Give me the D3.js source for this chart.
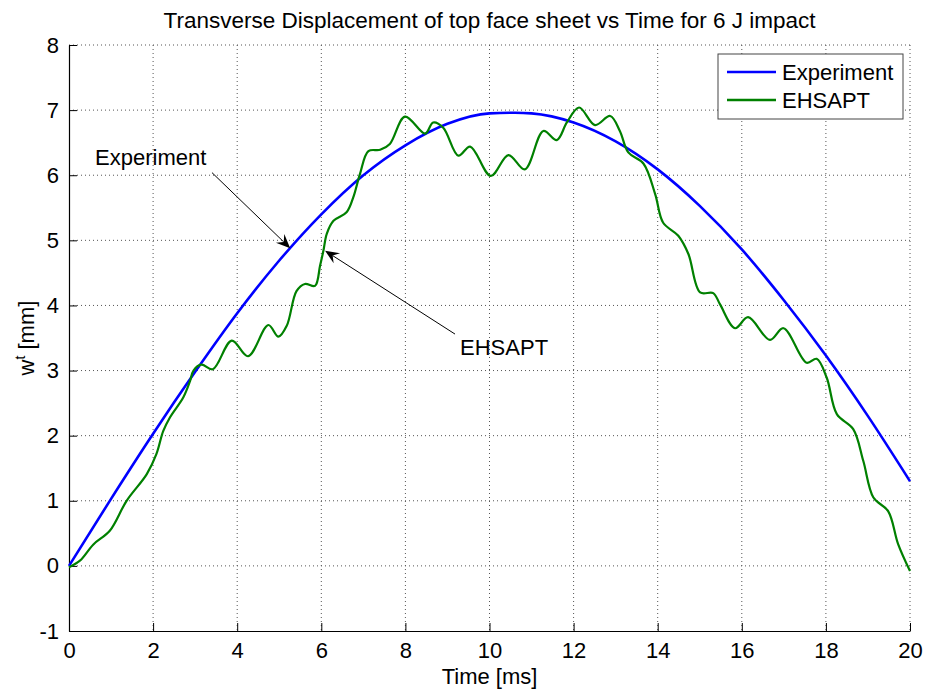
<!DOCTYPE html>
<html>
<head>
<meta charset="utf-8">
<script src="https://cdn.jsdelivr.net/npm/d3@7"></script>
<style>
  body { margin: 0; background: #fff; }
  text { font-family: "Liberation Sans", Arial, sans-serif; fill: #000; }
  .grid line { stroke: #555; stroke-dasharray: 1,3; stroke-width: 1; }
</style>
</head>
<body>
<svg id="chart" width="928" height="692"></svg>
<script>
// time [ms] and displacement [mm]
var expTime = [0, 1, 2, 3, 4, 5, 6, 7, 8, 9, 10, 10.6, 11, 12, 13, 14, 15, 16, 17, 18, 19, 20];
var expDisp = [0, 1.03, 2.03, 2.98, 3.88, 4.69, 5.40, 6.00, 6.46, 6.79, 6.95, 6.96, 6.95, 6.81, 6.52, 6.09, 5.53, 4.86, 4.08, 3.23, 2.30, 1.30];

var ehsTime = [0, 0.26, 0.58, 0.97, 1.37, 1.85, 2.08, 2.24, 2.40, 2.72, 2.88, 2.96, 3.15, 3.42, 3.87, 4.26, 4.74, 4.98, 5.18, 5.41, 5.61, 5.85, 5.97,
  6.05, 6.13, 6.29, 6.60, 6.76, 6.92, 7.12, 7.40, 7.63, 7.99, 8.47, 8.66, 8.90, 9.26, 9.54, 10.03, 10.45, 10.84, 11.28, 11.60, 11.84, 12.13,
  12.51, 12.87, 13.10, 13.30, 13.66, 13.94, 14.13, 14.49, 14.73, 15.01, 15.32, 15.48, 15.84, 16.15, 16.67, 16.99, 17.54, 17.78, 18.02,
  18.26, 18.65, 18.89, 19.13, 19.48, 19.72, 20];
var ehsDisp = [-0.02, 0.08, 0.33, 0.54, 1.00, 1.41, 1.72, 2.07, 2.28, 2.59, 2.84, 3.00, 3.09, 3.02, 3.46, 3.22, 3.70, 3.52, 3.69, 4.22, 4.33, 4.30, 4.61,
  4.84, 5.10, 5.30, 5.43, 5.66, 6.02, 6.37, 6.39, 6.48, 6.90, 6.64, 6.81, 6.73, 6.30, 6.44, 5.99, 6.31, 6.09, 6.68, 6.54, 6.81, 7.04,
  6.77, 6.91, 6.68, 6.35, 6.18, 5.71, 5.27, 5.07, 4.79, 4.20, 4.19, 4.02, 3.65, 3.82, 3.47, 3.65, 3.12, 3.18, 2.89,
  2.33, 2.10, 1.61, 1.05, 0.84, 0.33, -0.08];

var xTicks = [0, 2, 4, 6, 8, 10, 12, 14, 16, 18, 20];
var yTicks = [-1, 0, 1, 2, 3, 4, 5, 6, 7, 8];

var seriesNames = ['Experiment', 'EHSAPT'];
var seriesColors = ['#0000ff', '#008000'];

// annotation text and arrows, in data units: [textT, textV, fromT, fromV, toT, toV]
var notes = [
  { label: 'Experiment', pos: [0.62, 6.27, 3.40, 6.04, 5.26, 4.88] },
  { label: 'EHSAPT', pos: [9.30, 3.35, 9.18, 3.56, 6.09, 4.84] }
];

var margin = { top: 45, right: 18, bottom: 61, left: 69 };
var width = 928 - margin.left - margin.right;
var height = 692 - margin.top - margin.bottom;

var svg = d3.select('#chart');
var g = svg.append('g').attr('transform', 'translate(' + margin.left + ',' + margin.top + ')');

var x = d3.scaleLinear().domain([0, 20]).range([0, width]);
var y = d3.scaleLinear().domain([-1, 8]).range([height, 0]);

// dotted grid
var grid = g.append('g').attr('class', 'grid');
grid.selectAll('.vx').data(xTicks.slice(1)).enter().append('line')
  .attr('x1', function (d) { return x(d); }).attr('x2', function (d) { return x(d); })
  .attr('y1', 0).attr('y2', height);
grid.selectAll('.hy').data(yTicks.slice(1)).enter().append('line')
  .attr('y1', function (d) { return y(d); }).attr('y2', function (d) { return y(d); })
  .attr('x1', 0).attr('x2', width);

// axes with inward ticks
var fmt = function (d) { return String(d); };
var xAxis = g.append('g').attr('transform', 'translate(0,' + height + ')')
  .call(d3.axisBottom(x).tickValues(xTicks).tickFormat(fmt).tickSizeInner(-8).tickSizeOuter(0).tickPadding(11));
var yAxis = g.append('g')
  .call(d3.axisLeft(y).tickValues(yTicks).tickFormat(fmt).tickSizeInner(-8).tickSizeOuter(0).tickPadding(10));
[xAxis, yAxis].forEach(function (a) {
  a.select('.domain').attr('stroke', '#000').attr('stroke-width', 1.2);
  a.selectAll('.tick line').attr('stroke', '#000');
  a.selectAll('.tick text').style('font-size', '22px').attr('fill', '#000');
});

// lines
var line = d3.line()
  .x(function (d) { return x(d[0]); })
  .y(function (d) { return y(d[1]); });

g.append('path')
  .datum(d3.zip(expTime, expDisp))
  .attr('fill', 'none').attr('stroke', seriesColors[0]).attr('stroke-width', 2.6)
  .attr('d', line.curve(d3.curveMonotoneX));

g.append('path')
  .datum(d3.zip(ehsTime, ehsDisp))
  .attr('fill', 'none').attr('stroke', seriesColors[1]).attr('stroke-width', 2.2)
  .attr('d', line.curve(d3.curveCatmullRom.alpha(0.5)));

// annotations
notes.forEach(function (n) {
  var p = n.pos;
  var x1 = x(p[2]), y1 = y(p[3]), x2 = x(p[4]), y2 = y(p[5]);
  var ang = Math.atan2(y2 - y1, x2 - x1);
  var len = 14, half = 6, notch = 9;
  var bx = x2 - len * Math.cos(ang), by = y2 - len * Math.sin(ang);
  var nx = x2 - notch * Math.cos(ang), ny = y2 - notch * Math.sin(ang);
  var px = -Math.sin(ang), py = Math.cos(ang);
  g.append('line')
    .attr('x1', x1).attr('y1', y1).attr('x2', nx).attr('y2', ny)
    .attr('stroke', '#000').attr('stroke-width', 1);
  g.append('path')
    .attr('d', 'M' + x2 + ',' + y2 + 'L' + (bx + half * px) + ',' + (by + half * py) +
      'L' + nx + ',' + ny + 'L' + (bx - half * px) + ',' + (by - half * py) + 'Z')
    .attr('fill', '#000');
  g.append('text')
    .attr('x', x(p[0])).attr('y', y(p[1]))
    .attr('dy', '0.35em')
    .style('font-size', '22px')
    .text(n.label);
});

// legend
var legend = g.append('g').attr('transform', 'translate(' + (width - 192) + ',9)');
legend.append('rect')
  .attr('width', 185).attr('height', 65)
  .attr('fill', '#fff').attr('stroke', '#444').attr('stroke-width', 1);
seriesNames.forEach(function (name, i) {
  var ly = 18 + i * 28;
  legend.append('line')
    .attr('x1', 9).attr('x2', 58).attr('y1', ly).attr('y2', ly)
    .attr('stroke', seriesColors[i]).attr('stroke-width', 2.4);
  legend.append('text')
    .attr('x', 64).attr('y', ly).attr('dy', '0.35em')
    .style('font-size', '22px')
    .text(name);
});

// title and axis labels
svg.append('text')
  .attr('x', margin.left + width / 2).attr('y', 28)
  .attr('text-anchor', 'middle')
  .style('font-size', '22.5px')
  .text('Transverse Displacement of top face sheet vs Time for 6 J impact');

svg.append('text')
  .attr('x', margin.left + width / 2).attr('y', 684)
  .attr('text-anchor', 'middle')
  .style('font-size', '22px')
  .text('Time [ms]');

var yl = svg.append('text')
  .attr('transform', 'translate(34,' + (margin.top + height / 2) + ') rotate(-90)')
  .attr('text-anchor', 'middle')
  .style('font-size', '22px');
yl.append('tspan').text('w');
yl.append('tspan').attr('dy', -9).style('font-size', '14px').text('t');
yl.append('tspan').attr('dy', 9).text(' [mm]');
</script>
</body>
</html>
